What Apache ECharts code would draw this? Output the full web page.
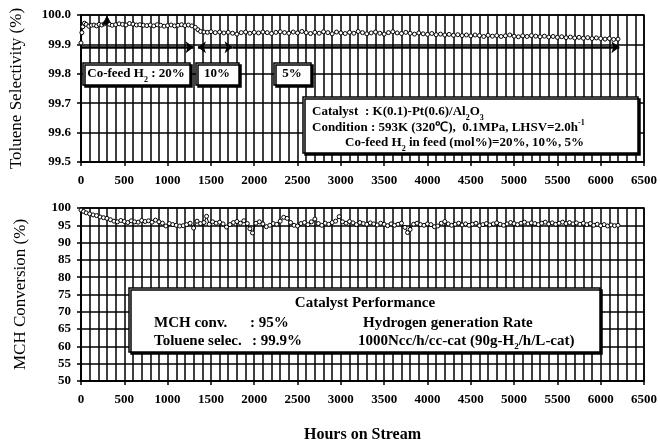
<!DOCTYPE html>
<html>
<head>
<meta charset="utf-8">
<script src="https://cdn.jsdelivr.net/npm/echarts@6/dist/echarts.min.js"></script>
<style>
  html, body { margin: 0; padding: 0; background: #fff; }
  #chartmain { width: 660px; height: 444px; }
</style>
</head>
<body>
<div id="chartmain"></div>
<script>
// Toluene selectivity (%) vs hours on stream
var selHours = [0, 10, 20, 40, 60, 90, 120, 150, 180, 210, 240, 270, 300, 330, 360, 400, 440, 480, 520, 560,
  600, 640, 680, 720, 760, 800, 840, 880, 920, 960, 1000, 1040, 1080, 1120, 1160, 1200, 1240, 1280, 1320, 1350,
  1380, 1420, 1460, 1500, 1550, 1600, 1650, 1700, 1750, 1800, 1850, 1900, 1950, 2000, 2050, 2100, 2150, 2200, 2250, 2300,
  2350, 2400, 2450, 2500, 2550, 2600, 2650, 2700, 2750, 2800, 2850, 2900, 2950, 3000, 3050, 3100, 3150, 3200, 3250, 3300,
  3350, 3400, 3450, 3500, 3550, 3600, 3650, 3700, 3750, 3800, 3850, 3900, 3950, 4000, 4050, 4100, 4150, 4200, 4250, 4300,
  4350, 4400, 4450, 4500, 4550, 4600, 4650, 4700, 4750, 4800, 4850, 4900, 4950, 5000, 5050, 5100, 5150, 5200, 5250, 5300,
  5350, 5400, 5450, 5500, 5550, 5600, 5650, 5700, 5750, 5800, 5850, 5900, 5950, 6000, 6050, 6100, 6150, 6200];
var selValues = [99.905, 99.94, 99.96, 99.972, 99.968, 99.962, 99.965, 99.966, 99.963, 99.968, 99.966, 99.97, 99.982, 99.968, 99.965, 99.967, 99.97, 99.968, 99.966, 99.971,
  99.969, 99.966, 99.967, 99.965, 99.964, 99.966, 99.963, 99.967, 99.965, 99.962, 99.964, 99.966, 99.963, 99.965, 99.967, 99.964, 99.966, 99.963, 99.958, 99.95,
  99.944, 99.942, 99.941, 99.943, 99.94, 99.942, 99.939, 99.941, 99.938, 99.935, 99.94, 99.942, 99.938, 99.941, 99.939, 99.942, 99.94, 99.937, 99.941, 99.943,
  99.94, 99.938, 99.942, 99.939, 99.944, 99.94, 99.937, 99.941, 99.938, 99.943, 99.94, 99.936, 99.942, 99.939, 99.937, 99.941, 99.938, 99.944, 99.94, 99.936,
  99.939, 99.942, 99.938, 99.935, 99.94, 99.943, 99.939, 99.937, 99.941, 99.938, 99.935, 99.939, 99.936, 99.934, 99.937, 99.933, 99.935, 99.932, 99.934, 99.931,
  99.933, 99.93, 99.932, 99.929, 99.932, 99.93, 99.927, 99.931, 99.928, 99.93, 99.927, 99.929, 99.932, 99.928, 99.926, 99.929, 99.927, 99.93, 99.928, 99.926,
  99.928, 99.925, 99.927, 99.924, 99.926, 99.923, 99.925, 99.922, 99.924, 99.921, 99.923, 99.92, 99.922, 99.92, 99.918, 99.92, 99.917, 99.918];
var selMarkHour = 300;   // drawn as a triangle in the original

// MCH conversion (%) vs hours on stream
var convHours = [0, 30, 60, 100, 140, 180, 220, 260, 300, 340, 380, 420, 460, 500, 540, 580, 620, 660, 700, 740,
  780, 820, 860, 900, 940, 980, 1020, 1060, 1100, 1140, 1180, 1220, 1260, 1300, 1340, 1380, 1420, 1450, 1480, 1520,
  1560, 1600, 1640, 1680, 1720, 1760, 1800, 1840, 1880, 1920, 1950, 1980, 2020, 2060, 2100, 2140, 2180, 2220, 2260, 2300,
  2340, 2380, 2420, 2460, 2500, 2540, 2580, 2620, 2660, 2700, 2740, 2780, 2820, 2860, 2900, 2940, 2980, 3020, 3060, 3100,
  3140, 3180, 3220, 3260, 3300, 3340, 3380, 3420, 3460, 3500, 3540, 3580, 3620, 3660, 3700, 3740, 3770, 3800, 3840, 3880,
  3920, 3960, 4000, 4040, 4080, 4120, 4160, 4200, 4240, 4280, 4320, 4360, 4400, 4440, 4480, 4520, 4560, 4600, 4640, 4680,
  4720, 4760, 4800, 4840, 4880, 4920, 4960, 5000, 5040, 5080, 5120, 5160, 5200, 5240, 5280, 5320, 5360, 5400, 5440, 5480,
  5520, 5560, 5600, 5640, 5680, 5720, 5760, 5800, 5840, 5880, 5920, 5960, 6000, 6040, 6080, 6120, 6160, 6200];
var convValues = [99.4, 99, 98.6, 98.3, 98, 97.8, 97.4, 97.2, 97.0, 96.6, 96.2, 96.0, 96.4, 96.1, 95.8, 96.3, 96.0, 95.9, 96.4, 96.1,
  96.3, 95.9, 96.5, 96.0, 95.6, 94.8, 95.5, 95.2, 95.0, 94.8, 94.9, 95.2, 95.6, 94.2, 96.2, 95.5, 95.8, 97.6, 95.3, 96.0,
  95.6, 95.9, 95.4, 94.5, 95.2, 95.8, 96.1, 95.6, 96.3, 95.5, 94.0, 92.8, 95.6, 96.0, 95.4, 94.6, 95.0, 95.5, 95.3, 96.2,
  97.3, 97.0, 95.8, 95.0, 94.8, 95.5, 95.8, 95.2, 96.0, 96.8, 95.5, 95.0, 95.6, 95.3, 95.8, 96.2, 97.5, 96.0, 95.6, 96.1,
  95.7, 95.2, 95.8, 95.5, 95.3, 95.7, 95.4, 95.1, 95.6, 95.3, 94.9, 95.4, 95.0, 95.3, 95.6, 94.4, 92.9, 93.8, 95.3, 95.6,
  95.2, 95.0, 95.4, 95.2, 94.6, 94.8, 95.6, 96.1, 95.4, 95.0, 95.3, 95.6, 95.1, 95.4, 95.0, 95.3, 95.6, 94.9, 95.2, 95.5,
  95.1, 95.4, 95.7, 95.3, 95.0, 95.4, 95.8, 95.5, 95.2, 95.6, 95.9, 95.4, 95.7, 95.5, 95.2, 95.6, 95.9, 95.4, 95.7, 95.3,
  95.6, 95.9, 95.5, 95.8, 95.4, 95.7, 95.3, 95.6, 95.2, 95.5, 95.0, 95.3, 94.9, 95.2, 94.8, 95.1, 94.9, 95.0];

// co-feed H2 period arrows on the selectivity panel: [from, to, startSymbol, endSymbol]
var arrowLevel = 99.89;
var arrowSegments = [[0, 1300, 'none', 'arrow'], [1350, 1750, 'arrow', 'arrow'], [1750, 6215, 'none', 'arrow']];

var serif = "'Liberation Serif', 'Times New Roman', serif";
var black = '#000';

function pairs(xs, ys) {
  var out = [];
  for (var i = 0; i < xs.length; i++) out.push([xs[i], ys[i]]);
  return out;
}

var selData = pairs(selHours, selValues).map(function (p) {
  if (p[0] === selMarkHour) {
    return { value: p, symbol: 'triangle', symbolSize: 8, itemStyle: { color: black } };
  }
  return p;
});

var arrowData = arrowSegments.map(function (s) {
  return [
    { coord: [s[0], arrowLevel], symbol: s[2] },
    { coord: [s[1], arrowLevel], symbol: s[3] }
  ];
});

// labelled axis: ticks and labels every 500 h
function xAxisMain(idx, extra) {
  var a = {
    type: 'value', gridIndex: idx, min: 0, max: 6500, interval: 500,
    axisLine: { show: true, lineStyle: { color: black, width: 1.5 } },
    axisTick: { show: true, length: 4, lineStyle: { color: black, width: 1.5 } },
    splitLine: { show: false },
    axisLabel: { color: black, fontFamily: serif, fontWeight: 'bold', fontSize: 13, margin: 12,
      formatter: function (v) { return String(v); } }
  };
  for (var k in extra) a[k] = extra[k];
  return a;
}

// hidden companion axis: vertical grid every 100 h
function xAxisGrid(idx) {
  return {
    type: 'value', gridIndex: idx, min: 0, max: 6500, interval: 100,
    axisLine: { show: false }, axisTick: { show: false }, axisLabel: { show: false },
    splitLine: { show: true, lineStyle: { color: black, width: 1.5 } }
  };
}

function yAxisCfg(idx, extra) {
  var a = {
    type: 'value', gridIndex: idx,
    axisLine: { show: true, lineStyle: { color: black, width: 1.5 } },
    axisTick: { show: true, length: 4, lineStyle: { color: black, width: 1.5 } },
    splitLine: { show: true, lineStyle: { color: black, width: 1.5 } },
    axisLabel: { color: black, fontFamily: serif, fontWeight: 'bold', fontSize: 13, margin: 10 },
    nameLocation: 'middle',
    nameTextStyle: { color: black, fontFamily: serif, fontSize: 17 }
  };
  for (var k in extra) a[k] = extra[k];
  return a;
}

var pointStyle = { color: '#fff', borderColor: black, borderWidth: 1 };

function box(x, y, w, h) {
  return {
    type: 'rect', z: 100,
    shape: { x: x, y: y, width: w, height: h },
    style: { fill: '#fff', stroke: black, lineWidth: 1.5, shadowColor: black, shadowOffsetX: 2, shadowOffsetY: 2 }
  };
}

var richBase = {
  b: { fontFamily: serif, fontWeight: 'bold', fontSize: 13, color: black },
  s: { fontFamily: serif, fontWeight: 'bold', fontSize: 8, color: black, verticalAlign: 'bottom', lineHeight: 19 },
  p: { fontFamily: serif, fontWeight: 'bold', fontSize: 8, color: black, verticalAlign: 'top', lineHeight: 19 }
};
var richBig = {
  b: { fontFamily: serif, fontWeight: 'bold', fontSize: 15, color: black },
  s: { fontFamily: serif, fontWeight: 'bold', fontSize: 9, color: black, verticalAlign: 'bottom', lineHeight: 21 }
};

function txt(x, y, text, rich, align) {
  return {
    type: 'text', z: 101, x: x, y: y,
    style: { text: text, rich: rich, align: align || 'left', verticalAlign: 'middle' }
  };
}

option = {
  backgroundColor: '#fff',
  animation: false,
  grid: [
    { left: 81, top: 15, width: 570, height: 147, show: true, borderColor: black, borderWidth: 1.5 },
    { left: 81, top: 208, width: 570, height: 173, show: true, borderColor: black, borderWidth: 1.5 }
  ],
  xAxis: [
    xAxisMain(0, {}),
    xAxisMain(1, {
      name: 'Hours on Stream', nameLocation: 'middle', nameGap: 46,
      nameTextStyle: { color: black, fontFamily: serif, fontSize: 16, fontWeight: 'bold' }
    }),
    xAxisGrid(0),
    xAxisGrid(1)
  ],
  yAxis: [
    yAxisCfg(0, {
      min: 99.5, max: 100, interval: 0.1, name: 'Toluene Selectivity (%)', nameGap: 56,
      axisLabel: { color: black, fontFamily: serif, fontWeight: 'bold', fontSize: 13, margin: 10,
        formatter: function (v) { return v.toFixed(1); } }
    }),
    yAxisCfg(1, { min: 50, max: 100, interval: 5, name: 'MCH Conversion (%)', nameGap: 52 })
  ],
  series: [
    {
      type: 'line', xAxisIndex: 0, yAxisIndex: 0, data: selData,
      symbol: 'circle', symbolSize: 4, showAllSymbol: true,
      lineStyle: { color: black, width: 1 }, itemStyle: pointStyle,
      markLine: {
        silent: true, animation: false, symbolSize: [9, 8],
        label: { show: false },
        lineStyle: { color: black, width: 2.5, type: 'solid' },
        data: arrowData
      }
    },
    {
      type: 'line', xAxisIndex: 1, yAxisIndex: 1, data: pairs(convHours, convValues),
      symbol: 'circle', symbolSize: 4, showAllSymbol: true,
      lineStyle: { color: black, width: 1 }, itemStyle: pointStyle
    }
  ],
  graphic: [
    box(83, 63, 107, 22),
    txt(136, 74, '{b|Co-feed H}{s|2}{b| : 20%}', richBase, 'center'),
    box(196, 63, 43, 22),
    txt(217, 74, '{b|10%}', richBase, 'center'),
    box(274, 63, 37, 22),
    txt(292, 74, '{b|5%}', richBase, 'center'),

    box(303, 97, 335, 56),
    txt(312, 112, '{b|Catalyst}', richBase),
    txt(365, 112, '{b|: K(0.1)-Pt(0.6)/Al}{s|2}{b|O}{s|3}', richBase),
    txt(312, 128, '{b|Condition : 593K (320℃),  0.1MPa, LHSV=2.0h}{p|-1}', richBase),
    txt(345, 143, '{b|Co-feed H}{s|2}{b| in feed (mol%)=20%, 10%, 5%}', richBase),

    box(129, 288, 471, 64),
    txt(365, 303, '{b|Catalyst Performance}', richBig, 'center'),
    txt(154, 323, '{b|MCH conv.}', richBig),
    txt(250, 323, '{b|: 95%}', richBig),
    txt(154, 341, '{b|Toluene selec.}', richBig),
    txt(252, 341, '{b|: 99.9%}', richBig),
    txt(363, 323, '{b|Hydrogen generation Rate}', richBig),
    txt(358, 341, '{b|1000Ncc/h/cc-cat (90g-H}{s|2}{b|/h/L-cat)}', richBig)
  ]
};

var myChart = echarts.init(document.getElementById('chartmain'));
myChart.setOption(option);
</script>
</body>
</html>
